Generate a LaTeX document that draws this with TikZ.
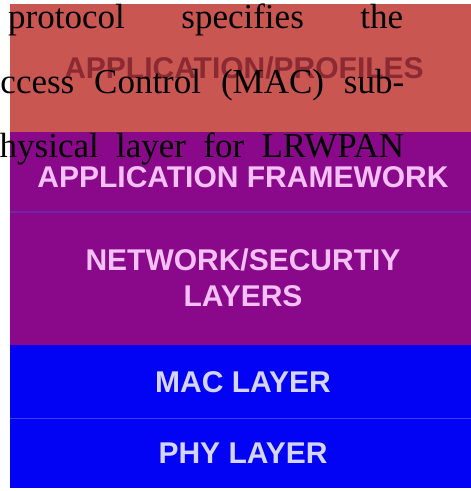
\documentclass[tikz,border=0pt]{standalone}
\usepackage{fontspec}
\setmainfont{Liberation Serif}
\newfontfamily\blockfont{Liberation Sans}
\definecolor{appred}{RGB}{201,86,80}
\definecolor{proftext}{RGB}{140,42,52}
\definecolor{stackpurple}{RGB}{138,8,138}
\definecolor{stackblue}{RGB}{2,2,245}
\definecolor{pinktext}{RGB}{245,192,245}
\definecolor{bluetext}{RGB}{212,212,255}
\definecolor{sepline}{RGB}{112,36,168}
\definecolor{bluesep}{RGB}{60,60,240}
\begin{document}
\begin{tikzpicture}[x=1pt,y=-1pt,
  layerbox/.style={draw=none,inner sep=0pt,outer sep=0pt,anchor=north west,minimum width=461pt},
  layerlabel/.style={inner sep=0pt,anchor=base,font=\blockfont\bfseries\fontsize{30}{36}\selectfont},
  bodyline/.style={inner sep=0pt,anchor=base west,font=\fontsize{35}{42}\selectfont,text=black}]
\useasboundingbox (0,0) rectangle (471,491);
\fill[white] (0,0) rectangle (471,491);
% layer blocks
\node[layerbox,fill=appred,minimum height=128pt] (prof) at (10,4) {};
\node[layerbox,fill=stackpurple,minimum height=80pt] (frame) at (10,132) {};
\node[layerbox,fill=stackpurple,minimum height=133pt] (net) at (10,212) {};
\node[layerbox,fill=stackblue,minimum height=73pt] (mac) at (10,345) {};
\node[layerbox,fill=stackblue,minimum height=70pt] (phy) at (10,418) {};
\draw[sepline,line width=1.5pt] (frame.south west) -- (frame.south east);
\draw[bluesep,line width=1pt] (mac.south west) -- (mac.south east);
% layer labels
\node[layerlabel,text=proftext] (profl) at (244,78) {APPLICATION/PROFILES};
\node[layerlabel,text=pinktext] (framel) at (243,187) {APPLICATION FRAMEWORK};
\node[layerlabel,text=pinktext] (netl1) at (243,270) {NETWORK/SECURTIY};
\node[layerlabel,text=pinktext] (netl2) at (243,306) {LAYERS};
\node[layerlabel,text=bluetext] (macl) at (243,392) {MAC LAYER};
\node[layerlabel,text=bluetext] (phyl) at (243,463) {PHY LAYER};
% overlaid body text
\node[bodyline] (t1) at (8,28) {\makebox[395pt][s]{protocol specifies the}};
\node[bodyline] (t2) at (-25,93) {\makebox[429pt][s]{Access Control (MAC) sub-}};
\node[bodyline] (t3) at (-18,157) {\makebox[422pt][s]{physical layer for LRWPAN}};
\end{tikzpicture}
\end{document}
